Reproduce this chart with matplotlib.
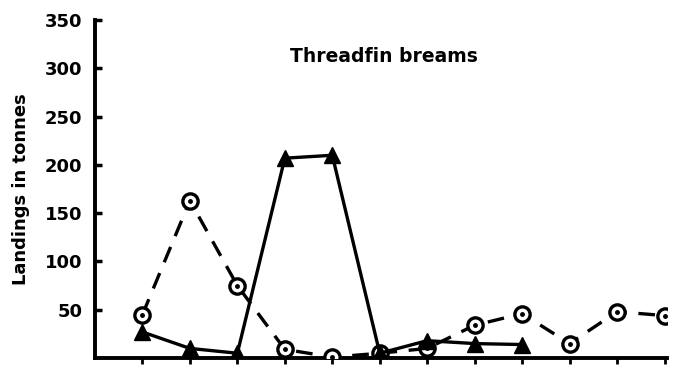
import numpy as np
import matplotlib.pyplot as plt

# monthly landings, two series
months = np.arange(12)
circle_vals = [45, 163, 75, 9, 1, 5, 10, 34, 46, 15, 48, 44]
tri_months = np.arange(9)
tri_vals = [27, 10, 5, 207, 210, 5, 18, 15, 14]
yticks = [50, 100, 150, 200, 250, 300, 350]

fig = plt.figure(figsize=(6.76, 3.65), dpi=100)
ax = fig.add_axes([0.1405, 0.019, 0.846, 0.926])

ax.plot(months, circle_vals, c='black', lw=2.4, ls=(0, (5, 3.5)),
        marker='o', ms=11, mfc='white', mec='black', mew=2.4, zorder=3)
ax.plot(months, circle_vals, ls='none', marker='o', ms=2.5, c='black', zorder=4)
ax.plot(tri_months, tri_vals, c='black', lw=2.4, marker='^', ms=11, zorder=3)

ax.set_xlim(-1, 11.05)
ax.set_ylim(0, 350)
ax.set_xticks(months)
ax.set_xticklabels([])
ax.set_yticks(yticks)
ax.set_yticklabels([str(v) for v in yticks], fontsize=13, fontweight='bold')
ax.tick_params(axis='y', direction='in', length=5, width=2.5, pad=9)
ax.tick_params(axis='x', direction='out', length=4, width=2)

for s in ['top', 'right']:
    ax.spines[s].set_visible(False)
for s in ['left', 'bottom']:
    ax.spines[s].set_linewidth(2.8)

ax.set_ylabel('Landings in tonnes', fontsize=13, fontweight='bold', labelpad=11)
ax.text(0.505, 0.893, 'Threadfin breams', transform=ax.transAxes, ha='center',
        va='center', fontsize=13.5, fontweight='bold')

fig.savefig('out.png', dpi=100)
